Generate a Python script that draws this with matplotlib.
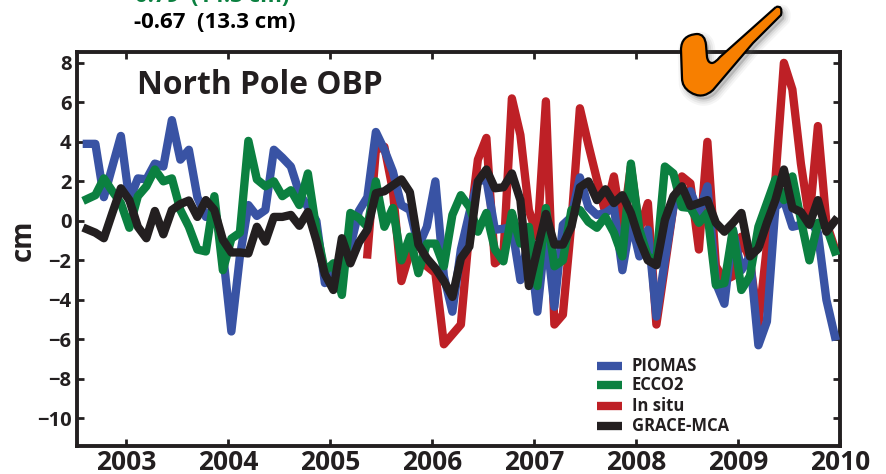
import matplotlib
matplotlib.use('Agg')
import matplotlib.pyplot as plt
from matplotlib.path import Path
from matplotlib.patches import PathPatch

plt.rcParams['font.family'] = ['Open Sans', 'DejaVu Sans']

# monthly values, Aug 2002 to Dec 2009
time = [2002 + (m + 7.4) / 12 for m in range(89)]

piomas = [3.9, 3.9, 1.2, 2.75, 4.3, 1.05, 2.15, 2.1, 2.9, 2.75, 5.1, 3.1, 3.6, 1.2, 0.2,
          0.7, -1.6, -5.6, -1.8, 0.8, 0.25, 0.55, 3.6, 3.2, 2.75, 1.4, 0.7, 0.0, -3.15, -2.65,
          -1.6, -1.3, 0.5, 1.2, 4.5, 3.6, 2.5, 0.8, 0.55, -1.3, -0.3, 2.0, -2.8, -4.6, -1.45,
          0.4, 2.0, 2.1, -0.45, -0.4, -0.3, -3.0, -0.8, -4.6, -0.45, -4.35, -0.2, 0.2, 2.2, 0.7,
          0.3, 0.4, 0.7, -2.5, 0.05, -1.8, -0.45, -4.85, -2.0, 0.7, 1.2, 1.5, 0.4, 1.75, -3.15,
          -4.2, -0.45, -2.5, -1.8, -6.3, -5.1, 0.7, 1.05, -0.3, -0.2, 0.05, -0.6, -4.0, -5.85]

ecco2 = [1.1, 1.3, 2.15, 1.5, 0.9, -0.35, 1.25, 1.75, 2.6, 2.0, 2.15, 0.55, -0.3, -1.45, -1.55,
         1.25, -2.5, -0.9, -0.6, 4.05, 2.1, 1.75, 2.0, 1.25, 1.55, 0.8, 2.4, -0.45, -2.55, -2.15,
         -3.75, 0.4, 0.15, -0.3, 2.0, -0.3, 0.65, -2.0, -0.8, -2.65, -1.15, -1.15, -2.3, 0.3, 1.3,
         0.7, -0.55, 0.4, -1.45, -2.05, 0.4, -1.15, -0.3, -3.3, 0.65, -2.3, -2.0, 0.55, 0.55, -0.05,
         -0.35, 0.2, -0.6, -1.8, 2.9, -0.45, -1.8, -2.0, 2.75, 2.4, 0.7, 0.65, -0.1, 0.4, -3.25,
         -3.15, -0.45, -3.5, -2.8, -0.3, 0.9, 2.1, 1.05, 2.25, 0.05, -2.0, -0.1, -0.3, -1.55]

# in situ record starts in May 2005
in_situ_time = time[33:]
in_situ = [-1.7, 3.6, 3.75, 1.55, -3.05, -1.6, -0.8, -2.3, -2.65, -6.25, -5.75, -5.25, -0.45, 3.1,
           4.2, -2.15, -1.8, 6.2, 4.35, 0.55, -0.8, 6.05, -5.25, -4.75, -0.1, 5.7, 3.85, 2.1, 0.4,
           2.25, -0.45, 2.75, -0.45, 0.9, -5.25, -2.3, 0.7, 2.25, 1.9, -1.45, 4.0, -2.3, -3.0, -2.8,
           -0.8, -2.0, -5.25, -1.3, 2.1, 8.0, 6.65, 2.9, 0.05, 4.8, -0.1, -1.4]

grace = [-0.42, -0.6, -0.88, 0.4, 1.65, 1.05, -0.3, -0.88, 0.5, -0.68, 0.55, 0.85, 1.03, 0.2, 1.05,
         0.55, -0.96, -1.6, -1.6, -1.65, -0.3, -1.05, 0.2, 0.2, 0.3, -0.25, 0.45, -1.0, -2.7, -3.5,
         -0.88, -2.15, -1.1, -0.45, 1.4, 1.5, 1.8, 2.1, 1.45, -1.2, -1.9, -2.4, -3.05, -3.85, -1.9,
         -1.3, 2.0, 2.6, 1.65, 1.7, 2.4, 1.05, -3.3, -1.45, 0.35, -1.2, -1.2, -0.3, 1.7, 2.0,
         1.05, 1.6, 0.9, 1.3, 0.4, -0.95, -2.0, -2.25, 0.05, 1.25, 1.75, 0.75, 0.9, 1.05, -0.1,
         -0.55, -0.1, 0.4, -1.8, -1.4, -0.1, 1.05, 2.6, 0.65, 0.45, -0.2, 1.05, -0.55, 0.0]

x_ticks = list(range(2003, 2011))
y_ticks = list(range(-10, 9, 2))
y_labels = ['\u2212' + str(-v) if v < 0 else str(v) for v in y_ticks]

blue = '#3953a4'
green = '#0b8040'
red = '#be2026'
black = '#231f20'

fig = plt.figure(figsize=(8.87, 4.74), dpi=100)
W, H = 887, 474
ax = fig.add_axes([77 / W, 1 - 446 / H, (840 - 77) / W, (446 - 52) / H])

lw = 6
ax.plot(in_situ_time, in_situ, color=red, lw=lw, solid_joinstyle='round', zorder=2)
ax.plot(time, piomas, color=blue, lw=lw, solid_joinstyle='round', zorder=3)
ax.plot(time, ecco2, color=green, lw=lw, solid_joinstyle='round', zorder=4)
ax.plot(time, grace, color=black, lw=lw, solid_joinstyle='round', zorder=5)

ax.set_xlim(2002.52, 2010)
ax.set_ylim(-11.4, 8.55)
ax.set_xticks(x_ticks)
ax.set_yticks(y_ticks)
ax.set_yticklabels(y_labels)
ax.tick_params(direction='in', length=5, width=2, color=black, top=True, right=True)
ax.tick_params(axis='x', labelsize=19, pad=2, labelcolor=black)
ax.tick_params(axis='y', labelsize=14.5, pad=4, labelcolor=black)
for lab in ax.get_xticklabels() + ax.get_yticklabels():
    lab.set_fontweight('bold')
for s in ax.spines.values():
    s.set_linewidth(2.8)
    s.set_color(black)

ax.set_ylabel('cm', fontsize=20, fontweight='bold', color=black)
ax.yaxis.set_label_coords(38 / W, 1 - 240 / H, transform=fig.transFigure)

fig.text(137 / W, 1 - 86 / H, 'North Pole OBP', fontsize=22.9, fontweight='bold', color=black,
         ha='left', va='center')
fig.text(215 / W, 1 - 22 / H, '-0.67  (13.3 cm)', fontsize=16, fontweight='bold', color='black',
         ha='center', va='center')
fig.text(212 / W, 1 + 3 / H, '0.79  (14.3 cm)', fontsize=16, fontweight='bold', color=green,
         ha='center', va='center')

# legend drawn in the order of the original
handles = [(blue, 'PIOMAS'), (green, 'ECCO2'), (red, 'In situ'), (black, 'GRACE-MCA')]
leg_y = [366, 385, 406, 426]
for (c, name), y in zip(handles, leg_y):
    fig.add_artist(plt.Line2D([597 / W, 622 / W], [1 - y / H, 1 - y / H], color=c, lw=6,
                              solid_capstyle='butt'))
    fig.text(632 / W, 1 - y / H, name, fontsize=12, fontweight='bold', color=black,
             ha='left', va='center')

# orange check mark, in pixel coordinates of the picture
MO, L3, CL = Path.MOVETO, Path.LINETO, Path.CURVE3
check = [(776, 7), (783, 5), (781, 15), (753, 43), (713, 90), (702, 100), (690, 92), (682, 87),
         (682, 78), (681, 50), (681, 35), (697, 34), (705, 34), (706, 45), (707, 57), (708, 63),
         (712, 63), (715, 63), (720, 57), (776, 7)]
codes = [MO, CL, CL, L3, L3, CL, CL, CL, CL, L3, CL, CL, CL, CL, L3, CL, CL, CL, CL, L3]
to_fig = lambda pts, dx=0, dy=0: [((x + dx) / W, 1 - (y + dy) / H) for x, y in pts]
for grow, a in [(9, 0.06), (6, 0.08), (3, 0.12)]:
    fig.add_artist(PathPatch(Path(to_fig(check, 3, 4), codes), transform=fig.transFigure, fc='#555555',
                             ec='#555555', lw=grow, alpha=a, joinstyle='round', zorder=10))
fig.add_artist(PathPatch(Path(to_fig(check), codes), transform=fig.transFigure, fc='#f77f00',
                         ec='black', lw=1.6, joinstyle='round', zorder=11))

fig.savefig('out.png', dpi=100)
